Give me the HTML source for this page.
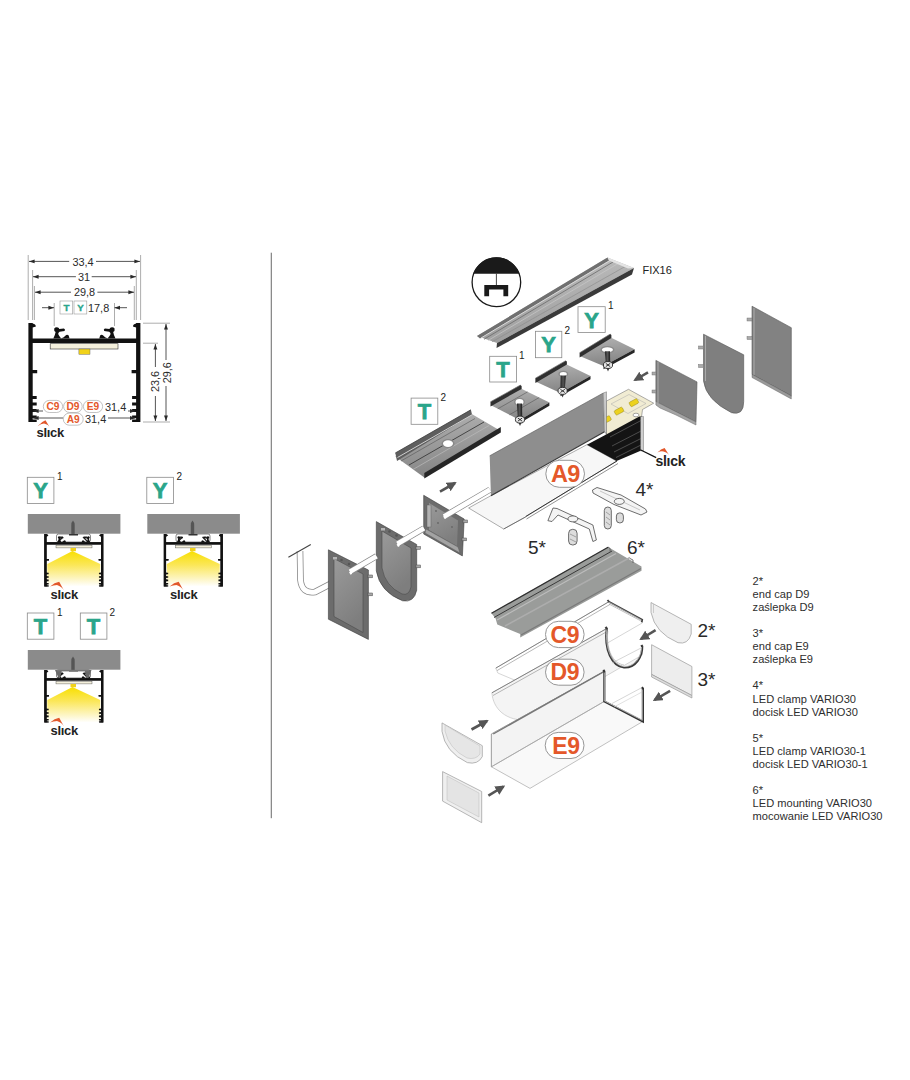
<!DOCTYPE html>
<html><head><meta charset="utf-8">
<style>
html,body{margin:0;padding:0;background:#fff;}
body{width:910px;height:1080px;overflow:hidden;position:relative;font-family:"Liberation Sans",sans-serif;}
svg{position:absolute;left:0;top:0;}
text{font-family:"Liberation Sans",sans-serif;}
</style></head>
<body>
<svg width="910" height="1080" viewBox="0 0 910 1080">
<defs>
  <marker id="ah" viewBox="0 0 10 10" refX="10" refY="5" markerWidth="7" markerHeight="7" orient="auto-start-reverse">
    <path d="M0,1.5 L10,5 L0,8.5 z" fill="#2a2a2a"/>
  </marker>
  <linearGradient id="light" x1="0" y1="0" x2="0" y2="1">
    <stop offset="0" stop-color="#f8df00"/>
    <stop offset="0.4" stop-color="#fbe75a"/>
    <stop offset="0.8" stop-color="#fdf6c8"/>
    <stop offset="1" stop-color="#ffffff"/>
  </linearGradient>
  <!-- profile cross section, local 112 x 99 -->
  <g id="prof">
    <path fill="#111" d="M0,0 h4.3 v99 h-4.3 z M107.7,0 h4.3 v99 h-4.3 z M0,15.5 h112 v4.4 h-112 z
      M4.3,0.5 q3,0.5 3.2,3 l-3.2,1 z M107.7,0.5 q-3,0.5 -3.2,3 l3.2,1 z
      M4.3,47 h4.5 v3.2 h-4.5 z M103.2,47 h4.5 v3.2 h-4.5 z
      M4.3,73 h4 v3 h-4 z M4.3,79.5 h4 v3 h-4 z M4.3,86 h4 v3 h-4 z M4.3,92.5 h4 v2.6 h-4 z M4.3,96.5 h4 v2.5 h-4 z
      M103.7,73 h4 v3 h-4 z M103.7,79.5 h4 v3 h-4 z M103.7,86 h4 v3 h-4 z M103.7,92.5 h4 v2.6 h-4 z M103.7,96.5 h4 v2.5 h-4 z"/>
    <!-- claws -->
    <g id="claw">
      <path fill="#111" d="M24.9,15.5 Q27,11 27.2,9 Q25.3,8 25.8,5.6 Q27.3,3.6 29.6,4.5 Q31,5.3 30.8,6 L35.5,5.6 Q37.3,6.4 36.2,8 L31.2,8.7 Q29.8,9.6 29.8,11 Q30.6,13 32.8,15.5 Z"/>
      <path fill="#111" d="M32.5,15.5 Q35.8,14.2 37.2,12.4 Q38.8,10.8 40.3,12.6 Q40.6,14.3 41.2,15.5 Z"/>
    </g>
    <use href="#claw" transform="translate(112,0) scale(-1,1)"/>
  </g>
</defs>

<!-- divider -->
<rect x="270.7" y="252.7" width="1.3" height="565.5" fill="#8a8a8a"/>

<!-- ============ LEFT: main profile ============ -->
<g id="leftmain">
  <use href="#prof" transform="translate(28.4,323)"/>
  <rect x="50.2" y="343.7" width="67.8" height="5.3" fill="#f4f0dc" stroke="#333" stroke-width="0.6"/>
  <rect x="78.9" y="349" width="11.1" height="5.3" fill="#f1d21a" stroke="#555" stroke-width="0.4"/>
  <!-- dimension lines -->
  <g stroke="#2a2a2a" stroke-width="0.8" fill="none">
    <line x1="28.2" y1="255" x2="28.2" y2="320" stroke="#8a8a8a" stroke-width="0.7"/>
    <line x1="140.6" y1="255" x2="140.6" y2="320" stroke="#8a8a8a" stroke-width="0.7"/>
    <line x1="32.6" y1="270" x2="32.6" y2="320" stroke="#8a8a8a" stroke-width="0.7"/>
    <line x1="136.3" y1="270" x2="136.3" y2="320" stroke="#8a8a8a" stroke-width="0.7"/>
    <line x1="34.4" y1="286" x2="34.4" y2="320" stroke="#8a8a8a" stroke-width="0.7"/>
    <line x1="134.3" y1="286" x2="134.3" y2="320" stroke="#8a8a8a" stroke-width="0.7"/>
    <line x1="54.2" y1="303" x2="54.2" y2="326" stroke="#8a8a8a" stroke-width="0.7"/>
    <line x1="114.5" y1="303" x2="114.5" y2="326" stroke="#8a8a8a" stroke-width="0.7"/>
    <line x1="29" y1="261.4" x2="69.2" y2="261.4" marker-start="url(#ah)"/>
    <line x1="96" y1="261.4" x2="140" y2="261.4" marker-end="url(#ah)"/>
    <line x1="33" y1="276.7" x2="75.9" y2="276.7" marker-start="url(#ah)"/>
    <line x1="91.7" y1="276.7" x2="136" y2="276.7" marker-end="url(#ah)"/>
    <line x1="35" y1="292.2" x2="71" y2="292.2" marker-start="url(#ah)"/>
    <line x1="97.4" y1="292.2" x2="134" y2="292.2" marker-end="url(#ah)"/>
    <line x1="42" y1="307.7" x2="54" y2="307.7" marker-end="url(#ah)"/>
    <line x1="127" y1="307.7" x2="114.5" y2="307.7" marker-end="url(#ah)"/>
    <!-- vertical dims -->
    <line x1="143" y1="323.2" x2="170" y2="323.2" stroke="#8a8a8a" stroke-width="0.7"/>
    <line x1="143" y1="422" x2="170" y2="422" stroke="#8a8a8a" stroke-width="0.7"/>
    <line x1="143" y1="343.2" x2="158" y2="343.2" stroke="#8a8a8a" stroke-width="0.7"/>
    <line x1="166" y1="324" x2="166" y2="360" marker-start="url(#ah)"/>
    <line x1="166" y1="386" x2="166" y2="421" marker-end="url(#ah)"/>
    <line x1="155.4" y1="344" x2="155.4" y2="367" marker-start="url(#ah)"/>
    <line x1="155.4" y1="396" x2="155.4" y2="421" marker-end="url(#ah)"/>
    <line x1="33" y1="411" x2="43" y2="411" marker-start="url(#ah)"/>
    <line x1="128" y1="411" x2="135.5" y2="411" marker-end="url(#ah)"/>
    <line x1="33" y1="418" x2="63" y2="418" marker-start="url(#ah)"/>
    <line x1="108" y1="418" x2="135.5" y2="418" marker-end="url(#ah)"/>
  </g>
  <g font-size="10.9" fill="#2a2a2a">
    <text x="83" y="266.1" text-anchor="middle">33,4</text>
    <text x="84" y="280.9" text-anchor="middle">31</text>
    <text x="84.6" y="296.3" text-anchor="middle">29,8</text>
    <text x="88" y="312">17,8</text>
    <text x="105" y="410.7">31,4</text>
    <text x="85" y="423.4">31,4</text>
    <text transform="translate(159.3,381.5) rotate(-90)" text-anchor="middle">23,6</text>
    <text transform="translate(170.8,372.7) rotate(-90)" text-anchor="middle">29,6</text>
  </g>
  <g fill="#fff" stroke="#9a9a9a" stroke-width="0.6">
    <rect x="60" y="301" width="12.7" height="13" />
    <rect x="74" y="301" width="12.8" height="13" />
  </g>
  <g font-size="9.8" font-weight="bold" fill="#2aa58a" stroke="#2aa58a" stroke-width="0.35" text-anchor="middle">
    <text x="66.4" y="311.3">T</text>
    <text x="80.4" y="311.3">Y</text>
  </g>
  <g fill="#fff" stroke="#9a9a9a" stroke-width="0.6">
    <rect x="43.3" y="400.4" width="19.3" height="12.1" rx="6"/>
    <rect x="63.6" y="400.4" width="18.6" height="12.1" rx="6"/>
    <rect x="83.4" y="400.4" width="19.2" height="12.1" rx="6"/>
    <rect x="63.3" y="413.1" width="19.9" height="12.1" rx="6"/>
  </g>
  <g font-size="10.2" font-weight="bold" fill="#e4582a" text-anchor="middle">
    <text x="53" y="410.2">C9</text>
    <text x="72.9" y="410.2">D9</text>
    <text x="93" y="410.2">E9</text>
    <text x="73.2" y="422.9">A9</text>
  </g>
  <g id="slick">
    <path d="M37.6,426.3 Q41.5,421.5 45.5,420.2 L50.3,428.2 Q48.5,424.5 44,423.6 Q41,423.8 37.6,426.3 Z" fill="#e2582c"/>
    <text x="36.5" y="437" font-size="13" font-weight="bold" fill="#222" letter-spacing="-0.3">slıck</text>
  </g>
</g>

<!-- ============ LEFT: mounting diagrams ============ -->
<defs>
  <g id="mount">
    <!-- local origin = Y1 frame: ceiling x27.8..120.4 y514..533.7 -->
    <rect x="27.8" y="514" width="92.6" height="19.7" fill="#8b8b8b"/>
    <use href="#prof" transform="translate(44.3,534) scale(0.527,0.53)"/>
    <rect x="56.5" y="534" width="34" height="8" rx="2" fill="#fff" stroke="#555" stroke-width="0.7"/>
    <path d="M59,541 l4,-4 M60,537 h3 M87,541 l-4,-4 M84,537 h3" stroke="#222" stroke-width="1.2" fill="none"/>
    <path d="M71.3,535 v-9.5 q0,-3.5 1.7,-5 q1.7,1.5 1.7,5 v9.5 z" fill="#555"/>
    <rect x="69" y="534" width="9" height="1.5" fill="#333"/>
    <path d="M72.5,551 L47.3,564 V586.5 H100.2 V564 Z" fill="url(#light)"/>
    <rect x="56" y="545.3" width="36" height="2.6" fill="#f4f0dc" stroke="#444" stroke-width="0.4"/>
    <rect x="70.5" y="548" width="5.5" height="3.2" fill="#f1d21a"/>
    <use href="#prof" transform="translate(44.3,534) scale(0.527,0.53)"/>
    <path d="M50.1,586.5 Q54.5,582.5 59.2,581.8 L64,590.5 Q62,586.5 57,585 Q53.5,585 50.1,586.5 Z" fill="#e2582c"/>
    <text x="50.5" y="598.6" font-size="13" font-weight="bold" fill="#222" letter-spacing="-0.3">slıck</text>
  </g>
</defs>
<use href="#mount"/>
<use href="#mount" transform="translate(119.5,0)"/>
<use href="#mount" transform="translate(0,136)"/>
<g fill="#6a6a6a">
  <polygon points="55,670 62,670 60,678 58.5,678"/>
  <polygon points="84.5,670 91.5,670 88.5,678 86.5,678"/>
</g>
<rect x="57" y="669.8" width="32" height="1.6" fill="#777"/>
<g fill="#fff" stroke="#8a8a8a" stroke-width="0.8">
  <rect x="27.3" y="477.3" width="26.6" height="26.2"/>
  <rect x="146.8" y="477.3" width="26.6" height="26.2"/>
  <rect x="27.3" y="613" width="26.6" height="26.2"/>
  <rect x="80.3" y="613" width="26.6" height="26.2"/>
</g>
<g font-size="22" font-weight="bold" fill="#2aa58a" stroke="#2aa58a" stroke-width="0.75" text-anchor="middle">
  <text x="40.6" y="498.1">Y</text>
  <text x="160.1" y="498.1">Y</text>
  <text x="40.6" y="633.8">T</text>
  <text x="93.6" y="633.8">T</text>
</g>
<g font-size="10" fill="#222">
  <text x="57" y="479.5">1</text>
  <text x="176.5" y="479.5">2</text>
  <text x="57" y="615.5">1</text>
  <text x="109.5" y="615.5">2</text>
</g>

<!-- ============ CENTER ============ -->
<defs>
  <linearGradient id="railg" x1="0" y1="0" x2="0.3" y2="1">
    <stop offset="0" stop-color="#c4c4c4"/>
    <stop offset="1" stop-color="#9c9c9c"/>
  </linearGradient>
  <marker id="arr" viewBox="0 0 10 10" refX="8" refY="5" markerWidth="3.8" markerHeight="3.8" orient="auto">
    <path d="M0,0 L10,5 L0,10 z" fill="#555"/>
  </marker>
</defs>
<!-- FIX16 icon -->
<g id="fixicon">
  <circle cx="496.4" cy="282.3" r="24.3" fill="#fff" stroke="#1a1a1a" stroke-width="1.3"/>
  <path d="M473.4,273.75 A24.3,24.3 0 0 1 519.4,273.75 Z" fill="#1a1a1a"/>
  <line x1="496.4" y1="273.75" x2="496.4" y2="285.5" stroke="#1a1a1a" stroke-width="0.8"/>
  <path d="M484.3,285 H508.2 V296.2 H503.4 V289.6 H489.1 V296.2 H484.3 Z" fill="#1a1a1a"/>
</g>
<text x="642.5" y="274.2" font-size="11" fill="#222">FIX16</text>
<!-- FIX16 rail -->
<g id="fixrail">
  <polygon points="477,336 607.5,257.5 634,268 497,343" fill="url(#railg)"/>
  <polygon points="477,336 607.5,257.5 609,260.5 480,338.5" fill="#707070"/>
  <line x1="481" y1="338" x2="610" y2="260.5" stroke="#d8d8d8" stroke-width="1"/>
  <line x1="484" y1="339.3" x2="613" y2="262" stroke="#6a6a6a" stroke-width="0.8"/>
  <line x1="488" y1="340.5" x2="618" y2="263.5" stroke="#c8c8c8" stroke-width="0.7"/>
  <line x1="492" y1="341.8" x2="626" y2="266" stroke="#8a8a8a" stroke-width="0.6"/>
  <polygon points="497,343 634,268 632,274.5 496.5,348" fill="#3a3a3a"/>
  <polygon points="607.5,257.5 634,268 628,268.5 609,260.5" fill="#e4e4e4"/>
</g>
<!-- clips -->
<defs>
  <linearGradient id="clipg" x1="0" y1="0" x2="0.2" y2="1">
    <stop offset="0" stop-color="#b4b4b4"/>
    <stop offset="1" stop-color="#858585"/>
  </linearGradient>
  <linearGradient id="screwg" x1="0" y1="0" x2="1" y2="0">
    <stop offset="0" stop-color="#222"/>
    <stop offset="0.5" stop-color="#555"/>
    <stop offset="1" stop-color="#1a1a1a"/>
  </linearGradient>
</defs>
<g id="clips">
  <polygon points="579.6,356 610.2,337.3 634.6,349.2 603.5,366" fill="url(#clipg)"/>
  <polygon points="579.6,352.8 610.2,334.1 611.4000000000001,334.90000000000003 611.4000000000001,337.90000000000003 579.6,357.5" fill="#2f2f2f"/>
  <line x1="579.6" y1="352.8" x2="610.2" y2="334.1" stroke="#777" stroke-width="0.7"/>
  <polygon points="603.5,366 634.6,349.2 634.6,352.4 603.5,369.2" fill="#262626"/>
  <ellipse cx="607.4" cy="349.8" rx="7.0" ry="3.8" fill="#8a8a8a"/>
  <ellipse cx="607.4" cy="349.8" rx="5.5" ry="2.5" fill="#fff"/>
  <path d="M604.8,351.3 L605.8,363 L610.2,363 L610.0,351.3 Z" fill="url(#screwg)"/>
  <path d="M606.5,368 L608,371.5 L609.5,368 Z" fill="#333"/>
  <ellipse cx="608" cy="365" rx="4.6" ry="3.5" fill="#e6e6e6" stroke="#2a2a2a" stroke-width="0.9"/>
  <path d="M605.8,363.4 L610.2,366.6 M610.2,363.4 L605.8,366.6" stroke="#222" stroke-width="0.9"/>
  <polygon points="535.4,381.4 565.7,363.9 590.5,376 560.5,393" fill="url(#clipg)"/>
  <polygon points="535.4,378.2 565.7,360.7 566.9000000000001,361.5 566.9000000000001,364.5 535.4,382.9" fill="#2f2f2f"/>
  <line x1="535.4" y1="378.2" x2="565.7" y2="360.7" stroke="#777" stroke-width="0.7"/>
  <polygon points="560.5,393 590.5,376 590.5,379.2 560.5,396.2" fill="#262626"/>
  <ellipse cx="563.3" cy="374" rx="5.0" ry="3.3" fill="#8a8a8a"/>
  <ellipse cx="563.3" cy="374" rx="3.5" ry="2" fill="#fff"/>
  <path d="M560.6999999999999,375.5 L560.4,388.9 L564.8000000000001,388.9 L565.9,375.5 Z" fill="url(#screwg)"/>
  <path d="M561.1,393.9 L562.6,397.4 L564.1,393.9 Z" fill="#333"/>
  <ellipse cx="562.6" cy="390.9" rx="4.6" ry="3.5" fill="#e6e6e6" stroke="#2a2a2a" stroke-width="0.9"/>
  <path d="M560.4,389.29999999999995 L564.8000000000001,392.5 M564.8000000000001,389.29999999999995 L560.4,392.5" stroke="#222" stroke-width="0.9"/>
  <polygon points="490.5,405 520.4,388.3 549.4,402.5 519.6,420" fill="url(#clipg)"/>
  <polygon points="490.5,401.8 520.4,385.1 521.6,385.90000000000003 521.6,388.90000000000003 490.5,406.5" fill="#2f2f2f"/>
  <line x1="490.5" y1="401.8" x2="520.4" y2="385.1" stroke="#777" stroke-width="0.7"/>
  <polygon points="519.6,420 549.4,402.5 549.4,405.7 519.6,423.2" fill="#262626"/>
  <line x1="497.8" y1="408.8" x2="527.6" y2="391.9" stroke="#555" stroke-width="0.6"/>
  <line x1="509.4" y1="414.8" x2="539.2" y2="397.5" stroke="#555" stroke-width="0.6"/>
  <ellipse cx="519.5" cy="402" rx="5.5" ry="4.3" fill="#8a8a8a"/>
  <ellipse cx="519.5" cy="402" rx="4" ry="3" fill="#fff"/>
  <path d="M516.9,403.5 L517.8,417.6 L522.2,417.6 L522.1,403.5 Z" fill="url(#screwg)"/>
  <path d="M518.5,422.6 L520,426.1 L521.5,422.6 Z" fill="#333"/>
  <ellipse cx="520" cy="419.6" rx="4.6" ry="3.5" fill="#e6e6e6" stroke="#2a2a2a" stroke-width="0.9"/>
  <path d="M517.8,418.0 L522.2,421.20000000000005 M522.2,418.0 L517.8,421.20000000000005" stroke="#222" stroke-width="0.9"/>
</g>
<!-- label boxes -->
<g fill="#fff" stroke="#8a8a8a" stroke-width="0.8">
  <rect x="578" y="306.7" width="27.2" height="25.8"/>
  <rect x="535.4" y="331.3" width="26.4" height="26.4"/>
  <rect x="489.7" y="356.3" width="26.9" height="25.7"/>
  <rect x="411.1" y="398.1" width="26.7" height="26.2"/>
</g>
<g font-size="22" font-weight="bold" fill="#2aa58a" stroke="#2aa58a" stroke-width="0.75" text-anchor="middle">
  <text x="591.6" y="327.5">Y</text>
  <text x="548.6" y="352.1">Y</text>
  <text x="503.1" y="377.1">T</text>
  <text x="424.4" y="418.9">T</text>
</g>
<g font-size="10" fill="#222">
  <text x="608" y="309">1</text>
  <text x="564.5" y="334">2</text>
  <text x="519" y="358.5">1</text>
  <text x="440.5" y="400.5">2</text>
</g>
<!-- T2 rail -->
<g id="t2rail">
  <polygon points="395.3,456.5 470.9,413.4 500.8,431 424.3,477.6" fill="url(#clipg)"/>
  <polygon points="395.3,453 470.9,409.8 472,414.5 397,461" fill="#5e5e5e"/>
  <line x1="395.3" y1="453" x2="470.9" y2="409.8" stroke="#3a3a3a" stroke-width="0.8"/>
  <line x1="397.5" y1="457.5" x2="472" y2="414.8" stroke="#cfcfcf" stroke-width="1"/>
  <line x1="401" y1="461" x2="475" y2="418.5" stroke="#555" stroke-width="0.6"/>
  <line x1="409" y1="465" x2="484" y2="422" stroke="#3a3a3a" stroke-width="0.9"/>
  <line x1="413" y1="469.5" x2="489" y2="425.5" stroke="#bcbcbc" stroke-width="0.7"/>
  <polygon points="424.3,473 500.8,427 500.8,432.5 424.3,478.5" fill="#262626"/>
  <ellipse cx="448" cy="443.6" rx="6.5" ry="4.5" fill="#888"/>
  <ellipse cx="448" cy="443.6" rx="5" ry="3.4" fill="#fff"/>
</g>
<!-- A9 profile -->
<g id="a9">
  <!-- bottom white panel -->
  <polygon points="468.6,508 490.9,495.7 586.9,444.7 616.6,461 525.7,516.9 503.7,529" fill="#f7f7f7" stroke="#777" stroke-width="0.6"/>
  <line x1="525.7" y1="516.5" x2="617" y2="461" stroke="#333" stroke-width="1"/>
  <line x1="526.5" y1="519" x2="618" y2="463.5" stroke="#666" stroke-width="0.7"/>
  <line x1="503.7" y1="529" x2="525.7" y2="516.9" stroke="#555" stroke-width="0.7"/>
  <!-- LED strip -->
  <polygon points="606.2,401.2 628.5,389.3 653.7,403.2 642.5,409.5 641.5,417 606.2,437" fill="#f1ecd3" stroke="#777" stroke-width="0.6"/>
  <polygon points="611,404 629,394.5 646,403.5 628,413.5" fill="none" stroke="#aaa" stroke-width="0.5"/>
  <g fill="#ecd21e" stroke="#8a7a10" stroke-width="0.4">
    <rect x="-4.5" y="-2.5" width="9" height="5" rx="1.2" transform="translate(633.9,402.7) rotate(-28)"/>
    <rect x="-4.5" y="-2.5" width="9" height="5" rx="1.2" transform="translate(619,411.1) rotate(-28)"/>
    <rect x="-3" y="-2.5" width="6" height="5" rx="1.2" transform="translate(607.8,419) rotate(-28)"/>
  </g>
  <ellipse cx="636" cy="415" rx="3" ry="1.8" fill="#fff" stroke="#555" stroke-width="0.5"/>
  <!-- black interior -->
  <polygon points="586.9,444.7 606.2,434.5 639.3,416.5 641.8,416.5 641.8,450.2 616.6,461" fill="#141414"/>
  <g stroke="#5a5a5a" stroke-width="0.8">
    <line x1="610" y1="437" x2="641" y2="420.5"/>
    <line x1="612" y1="446" x2="641" y2="431"/>
    <line x1="614" y1="452" x2="641" y2="438.5"/>
    <line x1="616" y1="457.5" x2="641" y2="445"/>
  </g>
  <polygon points="640.5,416.5 643.5,416.5 643.5,450.5 640.5,451" fill="#cfcfcf" stroke="#555" stroke-width="0.4"/>
  <!-- front wall -->
  <polygon points="489.7,455.8 603.3,393 604.5,431.7 490.9,495.7" fill="#8e8e8e"/>
  <polygon points="603.3,393 606.5,391.8 606.5,434 604.5,431.7" fill="#c9c9c9" stroke="#555" stroke-width="0.4"/>
  <line x1="490.9" y1="495.7" x2="604.5" y2="431.7" stroke="#3a3a3a" stroke-width="1.2"/>
  <line x1="489.7" y1="455.8" x2="603.3" y2="393" stroke="#555" stroke-width="0.6"/>
  <!-- label -->
  <rect x="545.8" y="460.3" width="38.7" height="27" rx="13.5" fill="#fff" stroke="#8a8a8a" stroke-width="0.9"/>
  <text x="565.3" y="481.8" font-size="23.5" font-weight="bold" fill="#e4582a" text-anchor="middle" letter-spacing="-0.6">A9</text>
  <!-- slick -->
  <line x1="640.3" y1="449.7" x2="656.2" y2="457.6" stroke="#111" stroke-width="1.2"/>
  <path d="M657.4,452.4 Q661,449 664.6,448 L670,456.5 Q668,452.5 663.5,451.5 Q660.5,451 657.4,452.4 Z" fill="#e2582c"/>
  <text x="655.5" y="465.5" font-size="14" font-weight="bold" fill="#222" letter-spacing="-0.3">slıck</text>
</g>
<!-- wire tube (bend, behind caps) -->
<g id="wire">
  <path d="M300,551 L300.5,580 Q302,594 315,592 L340,579" fill="none" stroke="#8a8a8a" stroke-width="6.6"/>
  <path d="M300,551 L300.5,580 Q302,594 315,592 L340,579" fill="none" stroke="#fff" stroke-width="5"/>
  <line x1="288.4" y1="557.3" x2="310.8" y2="544.5" stroke="#444" stroke-width="1.1"/>
</g>
<!-- right end caps (dark) -->
<g id="rcaps">
  <polygon points="655.9,360.4 697,381.9 696,422 655.9,401.5" fill="#7f7f7f" stroke="#555" stroke-width="0.6"/>
  <polygon points="655.9,401.5 696,422 696,425 676,415 660,408 655.9,405" fill="#a5a5a5" stroke="#666" stroke-width="0.5"/>
  <line x1="658" y1="362" x2="658" y2="403" stroke="#aaa" stroke-width="1"/>
  <rect x="652" y="372" width="4" height="3" fill="#aaa" stroke="#666" stroke-width="0.4"/>
  <rect x="652" y="390" width="4" height="3" fill="#aaa" stroke="#666" stroke-width="0.4"/>
  <path d="M703.5,334.2 L743.7,354.8 V401.5 Q743.7,416 731.5,412.7 Q706,400 703.5,381 Z" fill="#7f7f7f" stroke="#555" stroke-width="0.6"/>
  <line x1="705.5" y1="336" x2="705.5" y2="381" stroke="#aaa" stroke-width="1"/>
  <rect x="698.5" y="346" width="5" height="3" fill="#aaa" stroke="#666" stroke-width="0.4"/>
  <rect x="698.5" y="364.5" width="5" height="3" fill="#aaa" stroke="#666" stroke-width="0.4"/>
  <polygon points="752,306.2 791.3,327.7 791.3,395.9 752,374.4" fill="#828282" stroke="#555" stroke-width="0.6"/>
  <line x1="754" y1="308" x2="754" y2="375" stroke="#aaa" stroke-width="1"/>
  <polygon points="752,374.4 791.3,395.9 791.3,399 752,377.5" fill="#9a9a9a" stroke="#555" stroke-width="0.4"/>
  <rect x="747" y="318" width="5" height="3" fill="#aaa" stroke="#666" stroke-width="0.4"/>
  <rect x="747" y="336.5" width="5" height="3" fill="#aaa" stroke="#666" stroke-width="0.4"/>
</g>
<!-- left end caps (dark) -->
<defs>
  <linearGradient id="capin" x1="0" y1="0" x2="0.4" y2="1">
    <stop offset="0" stop-color="#9a9a9a"/>
    <stop offset="1" stop-color="#7e7e7e"/>
  </linearGradient>
</defs>
<g id="lcaps">
  <!-- cap A -->
  <polygon points="423.7,495.3 464.2,519 462.4,555.9 423.7,534" fill="#6c6c6c" stroke="#3e3e3e" stroke-width="0.6"/>
  <polygon points="429,503 458,520.5 457,546 429,530" fill="url(#capin)"/>
  <polygon points="426,529 458,547 460,553 425,533" fill="#a3a3a3" stroke="#555" stroke-width="0.4"/>
  <rect x="427" y="505" width="4" height="22" fill="#b2b2b2" stroke="#555" stroke-width="0.4"/>
  <g fill="#666"><circle cx="436" cy="511" r="0.9"/><circle cx="445" cy="514" r="0.9"/><circle cx="438" cy="523" r="0.9"/><circle cx="452" cy="527" r="0.9"/></g>
  <!-- cap B -->
  <path d="M376.3,521.6 L416.7,544.5 L416.7,590.2 Q414,603 402.6,600.8 Q380,592 376.3,570.9 Z" fill="#6c6c6c" stroke="#3e3e3e" stroke-width="0.6"/>
  <path d="M382,531 L411,548 L411,587 Q409,596 402,594 Q385,586 382,568 Z" fill="url(#capin)" stroke="#4a4a4a" stroke-width="0.6"/>
  <g fill="#555"><circle cx="389.5" cy="531.5" r="1.3"/><circle cx="396.5" cy="535.5" r="1.3"/></g>
  <rect x="381" y="528" width="4" height="2.5" fill="#b5b5b5"/>
  <!-- cap C -->
  <polygon points="328.4,549.8 368.4,570 368.4,639.4 328.4,619.2" fill="#6c6c6c" stroke="#3e3e3e" stroke-width="0.6"/>
  <polygon points="334,558.5 363,574 363,632.5 334,616.5" fill="url(#capin)" stroke="#4a4a4a" stroke-width="0.6"/>
  <g fill="#555"><circle cx="341.5" cy="560" r="1.3"/><circle cx="349" cy="564" r="1.3"/></g>
  <rect x="333" y="557" width="4" height="2.5" fill="#b5b5b5"/>
  <g fill="#a8a8a8" stroke="#4a4a4a" stroke-width="0.5">
    <rect x="368" y="575" width="4.5" height="2.8"/><rect x="368" y="593" width="4.5" height="2.8"/>
    <rect x="416" y="546.5" width="4.5" height="2.8"/><rect x="416" y="565" width="4.5" height="2.8"/>
    <rect x="463" y="520" width="4.5" height="2.8"/><rect x="462" y="538" width="4.5" height="2.8"/>
  </g>
</g>
<!-- wire over caps -->
<g>
  <path d="M349.9,571.8 L376.5,556.2 M397.4,543.9 L424.0,528.3 M444.0,516.6 L490.0,489.6 " fill="none" stroke="#8a8a8a" stroke-width="6.2"/>
  <path d="M349.9,571.8 L376.5,556.2 M397.4,543.9 L424.0,528.3 M444.0,516.6 L490.0,489.6 " fill="none" stroke="#fff" stroke-width="4.8"/>
  <path d="M349.9,571.8 l1.5,2.5 M397.4,543.9 l1.5,2.5 M444,516 l1.5,2.5" stroke="#fff" stroke-width="2"/>
</g>
<!-- arrows -->
<g stroke="#555" stroke-width="2.6" marker-end="url(#arr)">
  <line x1="440" y1="491.6" x2="455" y2="483"/>
  <line x1="648" y1="372.4" x2="635" y2="380"/>
</g>

<!-- ============ LOWER CENTER ============ -->
<!-- 4*,5* clamps -->
<g id="clamps" fill="#f4f4f4" stroke="#4a4a4a" stroke-width="0.8">
  <polygon points="592.5,490 597,487.5 621,495 645.5,509 647,512 641,515 614,504.5 593,493"/>
  <path d="M600,491 L640,510" stroke="#999" stroke-width="0.5"/>
  <ellipse cx="619.3" cy="501.4" rx="5" ry="3"/>
  <polygon points="547.9,520.7 553,508 557,508.5 592.9,525 596.4,540 592.9,541.5 589.3,529 558,515 552,521.5"/>
  <ellipse cx="572.9" cy="518.9" rx="5" ry="3"/>
  <rect x="604.3" y="507" width="7" height="22" rx="3.5" fill="#ddd"/>
  <rect x="616.4" y="512.9" width="7" height="10" rx="3.2" fill="#ddd"/>
  <rect x="568.6" y="529.3" width="8.5" height="15.7" rx="4" fill="#ddd"/>
  <path d="M606,512 l4,3 M606,517 l4,3 M606,522 l4,3 M570,534 l6,3 M570,539 l6,3" stroke="#777" stroke-width="0.6"/>
</g>
<g font-size="19" fill="#2a2a2a">
  <text x="635.5" y="495.5">4*</text>
  <text x="528" y="553.5">5*</text>
  <text x="627" y="553.5">6*</text>
  <text x="697.5" y="637">2*</text>
  <text x="697.5" y="686">3*</text>
</g>
<!-- 6* rail -->
<g id="rail6">
  <polygon points="491.2,613 608.1,547 641.5,566.4 641.5,570.8 520.2,637.6 520.2,634 497.3,624.4 495.5,618.2" fill="#9a9c9a"/>
  <line x1="491.5" y1="613.3" x2="608.1" y2="547.3" stroke="#2e2e2e" stroke-width="1.3"/>
  <line x1="494" y1="617.5" x2="612" y2="551" stroke="#3a3a3a" stroke-width="1"/>
  <line x1="497" y1="620" x2="616" y2="553.5" stroke="#bdbdbd" stroke-width="1.2"/>
  <line x1="505" y1="626" x2="630" y2="557.5" stroke="#adadad" stroke-width="1.5"/>
  <line x1="521" y1="635" x2="641" y2="568.5" stroke="#7a7a7a" stroke-width="1.4"/>
  <path d="M608.1,547 l2,1.5 v3 M630,558.5 l3,1.5 v3" stroke="#555" stroke-width="0.8" fill="none"/>
</g>
<!-- diffusers -->
<g id="diff" fill="none" stroke="#8a8a8a" stroke-width="0.7">
  <!-- C9 plate -->
  <polygon points="495.8,668.1 608.6,601.9 642.2,619.7 642.2,623 531,687 497.8,673" fill="#fff" stroke="#bbb" stroke-width="0.6"/>
  <line x1="495.8" y1="668.1" x2="608.6" y2="601.9" stroke="#777" stroke-width="0.9"/>
  <line x1="497" y1="670.6" x2="610" y2="604.4" stroke="#999" stroke-width="0.7"/>
  <path d="M607.5,600 l1.5,1.9 L642.2,619.7 l-0.5,2.5" stroke="#444" stroke-width="1.8"/>
  <path d="M609,602.3 L641.5,620" stroke="#ddd" stroke-width="0.6"/>
  <line x1="609" y1="604" x2="641" y2="621" stroke="#999" stroke-width="0.6"/>
  <!-- D9 semicircle body -->
  <path d="M491.9,692.8 L606.6,628.6 C604,650 612,666 624,667.5 C636,668 642.5,656 642.2,646.4 L642.2,655 L530,720 C505,722 493,708 491.9,692.8 Z" fill="#f4f4f4" stroke="#bbb" stroke-width="0.6"/>
  <line x1="491.9" y1="692.8" x2="606.6" y2="628.6" stroke="#777" stroke-width="0.9"/>
  <line x1="493" y1="695.5" x2="607.5" y2="631.3" stroke="#999" stroke-width="0.7"/>
  <path d="M605.5,627 l1.3,1.6 C604,650 612,666 624,667.5 C636,668 642.5,656 642.2,646.4 l-0.8,-1.5" stroke="#3a3a3a" stroke-width="2.2"/>
  <path d="M606.8,629.5 C605,650 612.5,665 624,666.5 C635.5,667 641.5,656 641.5,647" stroke="#ddd" stroke-width="0.7"/>
  <path d="M607.8,631 C606,650 613,663.5 624,665" stroke="#aaa" stroke-width="0.6"/>
  <line x1="612" y1="663" x2="641" y2="648" stroke="#bbb" stroke-width="0.6"/>
  <!-- E9 box -->
  <polygon points="491.4,734 604.3,671.4 604.3,701.4 642.9,721.4 530,788.4 491.4,766.8" fill="#f9f9f9" stroke="#999" stroke-width="0.6"/>
  <polygon points="491.4,734 604.3,671.4 604.3,701.4 491.4,766.8" fill="#f3f3f3"/>
  <line x1="493.2" y1="734" x2="604.3" y2="671.4" stroke="#777" stroke-width="1.4"/>
  <line x1="491.4" y1="766.8" x2="604.3" y2="701.4" stroke="#aaa" stroke-width="0.6"/>
  <path d="M603.3,670 l1,1.4 V701.4 L642.9,721.4 V688.6 l-1,-1.5" stroke="#333" stroke-width="2.2"/>
  <path d="M604.3,672.5 V700.8 L642.3,720.3 V689.5" stroke="#ddd" stroke-width="0.7"/>
  <line x1="612" y1="703.5" x2="642" y2="687.5" stroke="#bbb" stroke-width="0.6"/>
  <line x1="614" y1="707" x2="642" y2="692" stroke="#ccc" stroke-width="0.6"/>
</g>
<g fill="#fff" stroke="#8a8a8a" stroke-width="0.9">
  <rect x="545.5" y="621.3" width="38.6" height="26.3" rx="13"/>
  <rect x="545.5" y="659.2" width="38.6" height="26" rx="13"/>
  <rect x="545.2" y="732.4" width="38.8" height="26.1" rx="13"/>
</g>
<g font-size="23" font-weight="bold" fill="#e4582a" text-anchor="middle" letter-spacing="-0.3">
  <text x="564.8" y="643">C9</text>
  <text x="564.8" y="680">D9</text>
  <text x="566" y="754.1">E9</text>
</g>
<!-- light end caps -->
<g id="lightcaps" stroke="#9a9a9a" stroke-width="0.7">
  <path d="M651,602.5 L691.2,624.3 V634 Q688,645 678,642.7 Q655,633 651,612.4 Z" fill="#efefef"/>
  <line x1="653.5" y1="604" x2="653.5" y2="613" stroke="#bbb"/>
  <polygon points="651.6,644.7 691.9,666.5 691.9,695.5 651.6,674.4" fill="#ededed"/>
  <polygon points="651.6,674.4 691.9,695.5 691.9,698 651.6,677" fill="#ddd"/>
  <path d="M442,722.9 L482.3,745.7 V756.6 Q478,765 467.3,762.6 Q445,752 442,731.3 Z" fill="#efefef"/>
  <path d="M445,725 L480,746 V754 Q476,760 467,758 Q449,749 445,731 Z" fill="#e6e6e6" stroke="#bbb" stroke-width="0.5"/>
  <polygon points="442.6,771.6 481.7,791.5 481.7,822.7 442.6,801.1" fill="#efefef"/>
  <polygon points="447,776 479,793 479,817 447,800" fill="#e4e4e4" stroke="#bbb" stroke-width="0.5"/>
</g>
<g stroke="#555" stroke-width="2.6" marker-end="url(#arr)">
  <line x1="655.6" y1="630.2" x2="641" y2="639"/>
  <line x1="670.1" y1="690.9" x2="654.5" y2="700"/>
  <line x1="471.5" y1="729.5" x2="487" y2="721"/>
  <line x1="488.4" y1="795.7" x2="503.5" y2="786.5"/>
</g>
<!-- legend -->
<g font-size="11.1" fill="#2e2e2e">
  <text x="752.6" y="584.5">2*</text>
  <text x="752.6" y="598">end cap D9</text>
  <text x="752.6" y="611.2">zaślepka D9</text>
  <text x="752.6" y="637">3*</text>
  <text x="752.6" y="650.2">end cap E9</text>
  <text x="752.6" y="663.2">zaślepka E9</text>
  <text x="752.6" y="689">4*</text>
  <text x="752.6" y="702.5">LED clamp VARIO30</text>
  <text x="752.6" y="715.5">docisk LED VARIO30</text>
  <text x="752.6" y="741.5">5*</text>
  <text x="752.6" y="755">LED clamp VARIO30-1</text>
  <text x="752.6" y="768">docisk LED VARIO30-1</text>
  <text x="752.6" y="793.5">6*</text>
  <text x="752.6" y="807">LED mounting VARIO30</text>
  <text x="752.6" y="820">mocowanie LED VARIO30</text>
</g>
</svg>
</body></html>
